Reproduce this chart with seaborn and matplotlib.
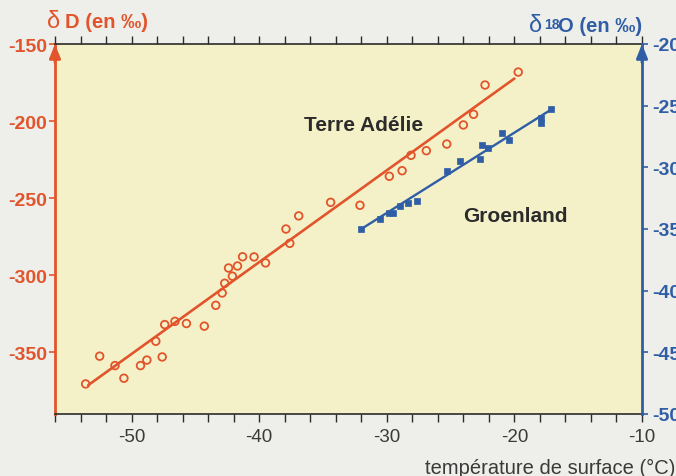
import numpy as np
import pandas as pd
import matplotlib
matplotlib.use("Agg")
import matplotlib.pyplot as plt
import seaborn as sns
from matplotlib.ticker import MultipleLocator, FixedLocator

# ---------------- data ----------------
ta_temp = [-53.6, -52.5, -51.3, -50.6, -49.3, -48.8, -48.1, -47.6, -47.4, -46.6,
           -45.7, -44.3, -43.4, -42.9, -42.7, -42.4, -42.1, -41.7, -41.3, -40.4,
           -39.5, -37.6, -37.9, -36.9, -34.4, -32.1, -29.8, -28.8, -28.1, -26.9,
           -25.3, -24.0, -23.2, -22.3, -19.7]
ta_dD = [-370.5, -352.5, -358.6, -366.8, -358.6, -355.0, -342.8, -353.0, -332.0, -329.9,
         -331.3, -333.0, -319.5, -311.5, -305.2, -295.3, -300.6, -294.0, -288.0, -288.1,
         -292.0, -279.3, -270.0, -261.5, -252.7, -254.6, -235.8, -232.2, -222.2, -219.2,
         -214.9, -202.5, -195.6, -176.6, -168.2]

gr_temp = [-32.0, -30.5, -29.8, -29.5, -29.0, -28.3, -27.6, -25.3, -24.3, -22.7,
           -22.5, -22.1, -21.0, -20.4, -17.9, -17.9, -17.1]
gr_d18O = [-35.0, -34.2, -33.7, -33.7, -33.1, -32.9, -32.7, -30.3, -29.5, -29.3,
           -28.2, -28.4, -27.2, -27.8, -26.0, -26.4, -25.3]

ta_fit_temp = [-53.4, -20.0]
ta_fit_dD = [-371.3, -172.4]
gr_fit_temp = [-32.0, -17.1]
gr_fit_d18O = [-35.0, -25.3]

x_major = [-50, -40, -30, -20, -10]
left_ticks = [-350, -300, -250, -200, -150]
right_ticks = [-50, -45, -40, -35, -30, -25, -20]

ta_label = "Terre Adélie"
gr_label = "Groenland"
x_title = "température de surface (°C)"

# ---------------- style ----------------
ORANGE = "#E2542B"
BLUE = "#2F5EA6"
DARK = "#2B2B2B"
GREY = "#3A3A3A"
FIG_BG = "#EEEEEA"
AX_BG = "#F4F1C9"

sns.set_theme(style="ticks")
plt.rcParams["font.family"] = ["Liberation Sans", "DejaVu Sans"]

W, H = 676, 477
fig = plt.figure(figsize=(W / 100, H / 100), dpi=100, facecolor=FIG_BG)
L, R, T, B = 55, 642, 45, 415
ax = fig.add_axes([L / W, 1 - B / H, (R - L) / W, (B - T) / H])
ax.set_facecolor(AX_BG)
ax2 = ax.twinx()

def px(x, y):
    return x / W, 1 - y / H

ta_df = pd.DataFrame({"temp": ta_temp, "dD": ta_dD})
gr_df = pd.DataFrame({"temp": gr_temp, "d18O": gr_d18O})
ta_fit = pd.DataFrame({"temp": ta_fit_temp, "dD": ta_fit_dD})
gr_fit = pd.DataFrame({"temp": gr_fit_temp, "d18O": gr_fit_d18O})

sns.lineplot(data=ta_fit, x="temp", y="dD", ax=ax, color=ORANGE, lw=1.9, zorder=2)
sns.scatterplot(data=ta_df, x="temp", y="dD", ax=ax, marker="o", s=30,
                facecolor="none", edgecolor=ORANGE, linewidth=1.3, zorder=3)

sns.lineplot(data=gr_fit, x="temp", y="d18O", ax=ax2, color=BLUE, lw=1.7, zorder=2)
sns.scatterplot(data=gr_df, x="temp", y="d18O", ax=ax2, marker="s", s=14,
                color=BLUE, edgecolor=BLUE, linewidth=0.5, zorder=3)

ax.set_xlim(-56, -10)
ax.set_ylim(-390, -150)
ax2.set_ylim(-50, -20)

ax.set_xlabel("")
ax.set_ylabel("")
ax2.set_ylabel("")
ax2.set_xlabel("")

ax.xaxis.set_major_locator(FixedLocator(x_major))
ax.xaxis.set_minor_locator(MultipleLocator(2))
ax.set_xticks(x_major)
ax.set_xticklabels([str(v) for v in x_major])
ax.set_yticks(left_ticks)
ax.set_yticklabels([str(v) for v in left_ticks])
ax2.set_yticks(right_ticks)
ax2.set_yticklabels([str(v) for v in right_ticks])

ax.tick_params(axis="x", which="both", bottom=True, top=True, direction="out",
               length=6, width=1, color=DARK, labelsize=13.5, labelcolor=GREY, pad=4)
ax.tick_params(axis="y", which="both", left=True, right=False, direction="out",
               length=4, width=1.2, color=ORANGE, labelcolor=ORANGE, labelsize=14, pad=1.5)
for lab in ax.get_yticklabels():
    lab.set_fontweight("bold")
ax2.tick_params(axis="y", which="both", right=True, left=False, direction="out",
                length=4.5, width=1.2, color=BLUE, labelcolor=BLUE, labelsize=14, pad=3)
for lab in ax2.get_yticklabels():
    lab.set_fontweight("bold")

for sp in ["top", "bottom"]:
    ax.spines[sp].set_color(DARK)
    ax.spines[sp].set_linewidth(1.2)
ax.spines["left"].set_color(ORANGE)
ax.spines["left"].set_linewidth(2)
ax.spines["right"].set_visible(False)
ax2.spines["right"].set_color(BLUE)
ax2.spines["right"].set_linewidth(2)
for sp in ["left", "top", "bottom"]:
    ax2.spines[sp].set_visible(False)

# arrowheads on the vertical axes
ax.annotate("", xy=(0, 1.0), xycoords="axes fraction", xytext=(0, 0.95),
            arrowprops=dict(arrowstyle="-|>,head_length=0.7,head_width=0.28",
                            color=ORANGE, lw=2, shrinkA=0, shrinkB=0), annotation_clip=False)
ax2.annotate("", xy=(1, 1.0), xycoords="axes fraction", xytext=(1, 0.95),
             arrowprops=dict(arrowstyle="-|>,head_length=0.7,head_width=0.28",
                             color=BLUE, lw=2, shrinkA=0, shrinkB=0), annotation_clip=False)

# series labels
ax.text(-36.5, -205.8, ta_label, fontsize=15, fontweight="bold", color=DARK,
        ha="left", va="baseline")
ax.text(-24.05, -264.8, gr_label, fontsize=15, fontweight="bold", color=DARK,
        ha="left", va="baseline")

# axis titles
fig.text(*px(47, 28), "δ", fontsize=17, color=ORANGE, ha="left", va="baseline")
fig.text(*px(65, 28), "D (en ‰)", fontsize=14.5, fontweight="bold", color=ORANGE,
         ha="left", va="baseline")
fig.text(*px(529, 32), "δ", fontsize=17, color=BLUE, ha="left", va="baseline")
fig.text(*px(544, 29), "18", fontsize=10, fontweight="bold", color=BLUE,
         ha="left", va="baseline")
fig.text(*px(558, 32), "O (en ‰)", fontsize=14.5, fontweight="bold", color=BLUE,
         ha="left", va="baseline")

fig.text(*px(425, 474), x_title, fontsize=14.5, color=GREY, ha="left", va="baseline")

fig.savefig("out.png", dpi=100, facecolor=FIG_BG)
